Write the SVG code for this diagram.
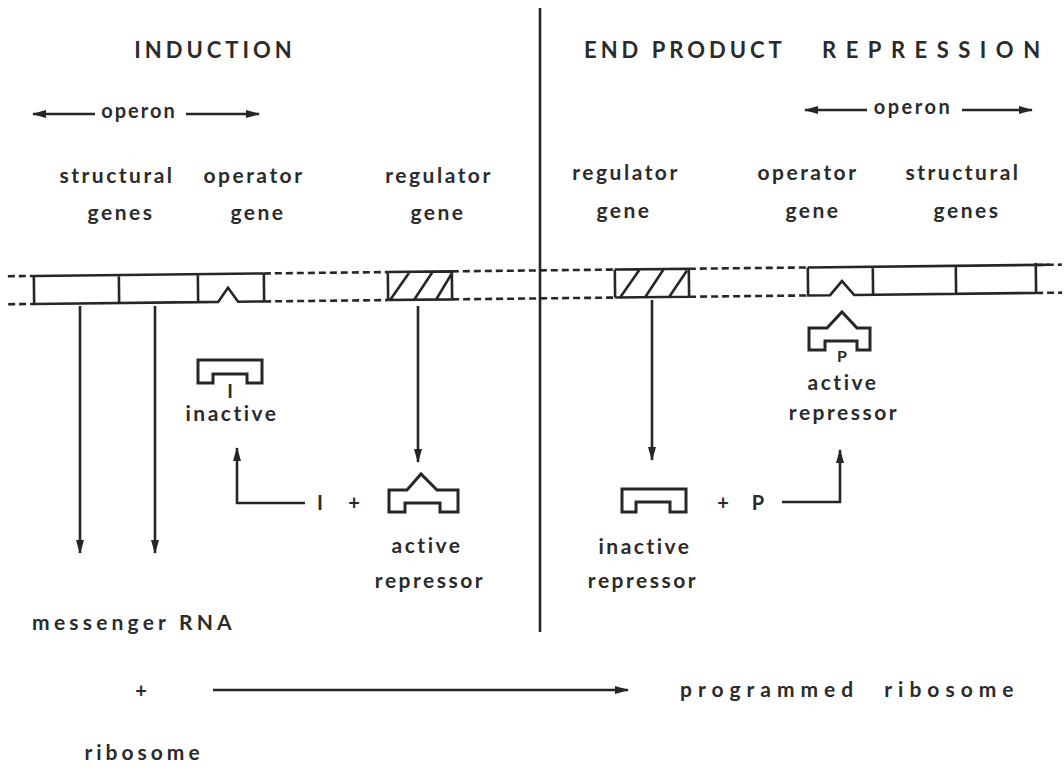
<svg xmlns="http://www.w3.org/2000/svg" width="1064" height="770" viewBox="0 0 1064 770">
<style>
text{font-family:Lato,"Liberation Sans",sans-serif;font-weight:bold;fill:#2b2b2b}
.lbl{font-size:21px;letter-spacing:2.5px;text-anchor:middle}
.hd{font-size:22px;letter-spacing:4px}
.ln{stroke:#262626;stroke-width:2.6;fill:none}
.dash{stroke:#262626;stroke-width:2.6;fill:none;stroke-dasharray:7 4}
.shape{stroke:#262626;stroke-width:3;fill:none;stroke-linejoin:miter}
</style>
<defs>
<marker id="ah" markerUnits="userSpaceOnUse" markerWidth="14" markerHeight="10" refX="13" refY="5" orient="auto-start-reverse">
<path d="M0,1 L14,5 L0,9 Z" fill="#262626"/>
</marker>
</defs>
<rect width="1064" height="770" fill="#fff"/>

<g id="divider"><line class="ln" x1="540" y1="8" x2="540" y2="632"/></g>

<g id="titles">
<text class="hd" x="215" y="58" text-anchor="middle">INDUCTION</text>
<text class="hd"><tspan x="584" y="58">END PRODUCT</tspan><tspan x="822" y="58" style="letter-spacing:9.5px">REPRESSION</tspan></text>
</g>

<g id="operon-left">
<text class="lbl" x="139" y="118" style="font-size:20px;letter-spacing:2px">operon</text>
</g>
<g id="operon-right">
<text class="lbl" x="913" y="114" style="font-size:20px;letter-spacing:2.5px">operon</text>
</g>

<g id="labels-left">
<text class="lbl" x="117" y="183">structural</text>
<text class="lbl" x="121" y="220">genes</text>
<text class="lbl" x="254" y="183">operator</text>
<text class="lbl" x="258" y="220">gene</text>
<text class="lbl" x="439" y="183">regulator</text>
<text class="lbl" x="438" y="220">gene</text>
</g>
<g id="labels-right">
<text class="lbl" x="626" y="180">regulator</text>
<text class="lbl" x="624" y="218">gene</text>
<text class="lbl" x="808" y="180">operator</text>
<text class="lbl" x="813" y="218">gene</text>
<text class="lbl" x="963" y="180">structural</text>
<text class="lbl" x="967" y="218">genes</text>
</g>

<g id="dna" transform="rotate(-0.63 30 290)">
<path class="dash" d="M8,276 H34 M264,276 H388 M452,276 H615 M689,276 H808 M1036,276 H1062"/>
<path class="dash" d="M8,304 H34 M264,304 H388 M452,304 H615 M689,304 H808 M1036,304 H1062"/>
<g id="structural-genes-left">
<path class="ln" d="M34,276 H264 M34,276 V304 H198 M119,276 V304 M198,276 V304 L218,304 L228,290 L238,304 H264 M264,276 V304"/>
</g>
<g id="regulator-gene-left">
<path class="ln" d="M388,276 H452 M388,304 H452 M388,276 V304 M452,276 V304 M390,304 L410,276 M414,304 L433,276 M436,304 L452,278"/>
</g>
<g id="regulator-gene-right">
<path class="ln" d="M615,276 H689 M615,304 H689 M615,276 V304 M689,276 V304 M620,304 L640,276 M645,304 L664,276 M669,304 L687,278"/>
</g>
<g id="structural-genes-right">
<path class="ln" d="M808,276 H1050 M808,276 V304 H830 L842,290 L854,304 H1036 M873,276 V304 M956,276 V304 M1036,274 V304"/>
</g>
</g>

<g id="inactive-inducer">
<path class="shape" d="M198,360 H262 V383 H247 V374 H213 V383 H198 Z"/>
<text x="230" y="398" text-anchor="middle" style="font-size:19px">I</text>
<text class="lbl" x="232" y="421">inactive</text>
</g>

<g id="inducer-eq">
<text x="320" y="510" text-anchor="middle" style="font-size:20px">I</text>
<text x="354" y="510" text-anchor="middle" style="font-size:20px">+</text>
</g>

<g id="active-repressor-left">
<path class="shape" d="M389,490 H407 L421,474 L437,490 H458 V512 H440 V503 H405 V512 H389 Z"/>
<text class="lbl" x="427" y="553">active</text>
<text class="lbl" x="430" y="588">repressor</text>
</g>

<g id="inactive-repressor-right">
<path class="shape" d="M622,489 H686 V512 H670 V502 H636 V512 H622 Z"/>
<text class="lbl" x="645" y="554">inactive</text>
<text class="lbl" x="643" y="588">repressor</text>
</g>

<g id="corepressor-eq">
<text x="723" y="510" text-anchor="middle" style="font-size:20px">+</text>
<text x="758" y="510" text-anchor="middle" style="font-size:20px">P</text>
</g>

<g id="active-repressor-right">
<path class="shape" d="M809,328 H827 L842,312 L857,328 H870 V350 H857 V341 H825 V350 H809 Z"/>
<text x="842" y="362" text-anchor="middle" style="font-size:16px">P</text>
<text class="lbl" x="843" y="390">active</text>
<text class="lbl" x="844" y="420">repressor</text>
</g>

<g id="bottom">
<text class="lbl" x="134" y="630" style="letter-spacing:4.2px">messenger RNA</text>
<text x="141" y="698" text-anchor="middle" style="font-size:20px">+</text>
<text class="lbl" x="144" y="760" style="letter-spacing:4px">ribosome</text>
<text x="680" y="697" style="font-size:21px;letter-spacing:6px;word-spacing:14px">programmed ribosome</text>
</g>

<g id="connectors">
<line class="ln" x1="95" y1="114" x2="33" y2="114" marker-end="url(#ah)"/>
<line class="ln" x1="186" y1="114" x2="259" y2="114" marker-end="url(#ah)"/>
<line class="ln" x1="867" y1="110" x2="805" y2="110" marker-end="url(#ah)"/>
<line class="ln" x1="962" y1="110" x2="1032" y2="110" marker-end="url(#ah)"/>
<line class="ln" x1="80" y1="306" x2="80" y2="553" marker-end="url(#ah)"/>
<line class="ln" x1="155" y1="306" x2="155" y2="553" marker-end="url(#ah)"/>
<line class="ln" x1="418" y1="306" x2="418" y2="462" marker-end="url(#ah)"/>
<line class="ln" x1="652" y1="300" x2="652" y2="460" marker-end="url(#ah)"/>
<path class="ln" d="M305,503 H237 V448" marker-end="url(#ah)"/>
<path class="ln" d="M782,502 H840 V450" marker-end="url(#ah)"/>
<line class="ln" x1="213" y1="690" x2="628" y2="690" marker-end="url(#ah)"/>
</g>
</svg>
